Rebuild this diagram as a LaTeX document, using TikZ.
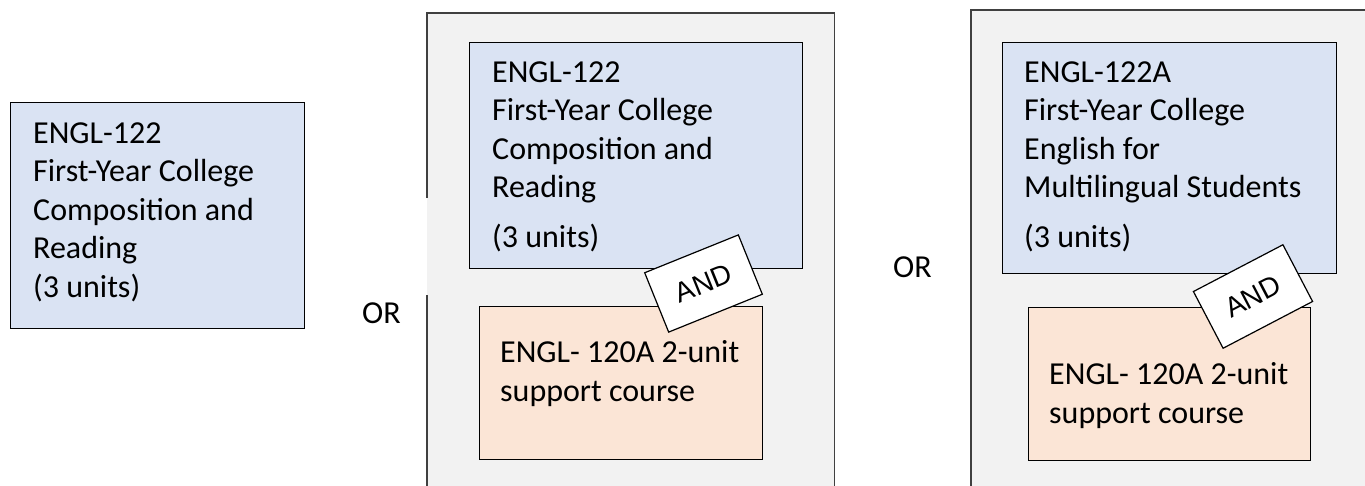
\documentclass[tikz,border=0pt]{standalone}
\usepackage{fontspec}
\setmainfont{Carlito}
\newfontfamily\tagfont{Liberation Sans}
\usepackage{xcolor}
\usepackage{tikz}
\usetikzlibrary{positioning,calc}
\definecolor{courseblue}{HTML}{DAE3F3}
\definecolor{supportorange}{HTML}{FBE5D6}
\definecolor{panelgray}{HTML}{F2F2F2}
\definecolor{panelline}{HTML}{404040}

\begin{document}
\begin{tikzpicture}[
    x=1pt, y=-1pt,
    panel/.style={rectangle, fill=panelgray, anchor=north west, inner sep=0pt},
    course/.style={draw=black, line width=1.2pt, rectangle, fill=courseblue, anchor=north west, inner sep=0pt},
    support/.style={draw=black, line width=1.2pt, rectangle, fill=supportorange, anchor=north west, inner sep=0pt},
    txt/.style={anchor=base west, align=left, inner sep=0pt, font=\fontsize{32}{38.5}\selectfont},
    andtag/.style={draw=black, line width=1.2pt, rectangle, fill=white, minimum width=101pt, minimum height=64pt, inner sep=0pt, font=\tagfont\fontsize{28}{32}\selectfont}
]
    \useasboundingbox (0,0) rectangle (1365,485);

    % Panels
    \node [panel, minimum width=407pt, minimum height=480pt] (panA) at (427,13) {};
    \draw [panelline, line width=1.2pt] ($(panA.north west)+(0,185)$) -- (panA.north west) -- (panA.north east) -- (panA.south east);
    \draw [panelline, line width=1.2pt] ($(panA.north west)+(0,282)$) -- (panA.south west);
    \node [panel, minimum width=420pt, minimum height=480pt] (panB) at (971,10) {};
    \draw [panelline, line width=1.2pt] (panB.south west) -- (panB.north west) -- (panB.north east);

    % Option 1 (base anchor = last line)
    \node [course, minimum width=294pt, minimum height=226pt] (engA) at (10,102) {};
    \node [txt] (engAtext) at ($(engA.north west)+(23,195)$) {ENGL-122\\First-Year College\\Composition and\\Reading\\(3 units)};
    \node [txt] (orA) at (362,323) {OR};

    % Option 2
    \node [course, minimum width=333pt, minimum height=226pt] (engB) at (469,42) {};
    \node [txt] (engBtext) at ($(engB.north west)+(23,205)$) {ENGL-122\\First-Year College\\Composition and\\Reading\\[11pt](3 units)};
    \node [support, minimum width=283pt, minimum height=153pt] (supB) at (479,306) {};
    \node [txt] (supBtext) at ($(supB.north west)+(21,95)$) {ENGL- 120A 2-unit\\support course};
    \node [andtag, rotate=22] (andB) at (703.5,283.5) {AND};
    \node [txt] (orB) at (893,277) {OR};

    % Option 3
    \node [course, minimum width=334pt, minimum height=231pt] (engC) at (1002,42) {};
    \node [txt] (engCtext) at ($(engC.north west)+(22,205)$) {ENGL-122A\\First-Year College\\English for\\Multilingual Students\\[11pt](3 units)};
    \node [support, minimum width=282pt, minimum height=153pt] (supC) at (1028,307) {};
    \node [txt] (supCtext) at ($(supC.north west)+(21,116)$) {ENGL- 120A 2-unit\\support course};
    \node [andtag, rotate=27.6] (andC) at (1253,296.5) {AND};
\end{tikzpicture}
\end{document}
